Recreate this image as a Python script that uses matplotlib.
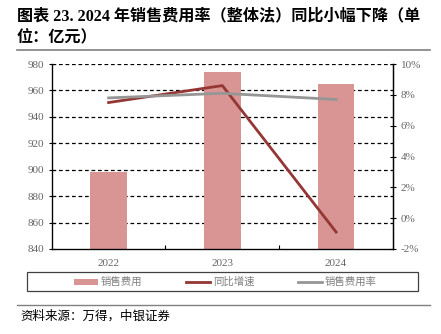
import matplotlib
matplotlib.use("Agg")
import matplotlib.pyplot as plt
from matplotlib.patches import Rectangle
from matplotlib.lines import Line2D

plt.rcParams['font.family'] = ['Liberation Serif', 'Noto Sans CJK SC', 'DejaVu Sans']

years = ['2022', '2023', '2024']
sales_expense = [898.3, 974.2, 964.9]        # 亿元
yoy_growth = [7.5, 8.6, -0.9]                # %
expense_ratio = [7.8, 8.1, 7.7]              # %
left_ticks = [840, 860, 880, 900, 920, 940, 960, 980]
right_ticks = [-2, 0, 2, 4, 6, 8, 10]

bar_color = '#D99594'
red_color = '#943634'
gray_color = '#969696'
tick_color = '#666666'

W, H = 441, 334
fig = plt.figure(figsize=(W / 100, H / 100), dpi=100)

def fx(px):
    return px / W

def fy(py):
    return 1 - py / H

# Title (two lines) and rule underneath
title_font = ['Liberation Serif', 'Noto Sans CJK SC']
fig.text(fx(17), fy(16), '图表 23. 2024 年销售费用率（整体法）同比小幅下降（单',
         fontsize=11.6, fontweight='bold', family=title_font, va='center', ha='left')
fig.text(fx(17), fy(38), '位：亿元）',
         fontsize=11.6, fontweight='bold', family=title_font, va='center', ha='left')
fig.add_artist(Line2D([fx(17), fx(430)], [fy(49.5), fy(49.5)], color='#808080', lw=1.2))

# Main axes
ax = fig.add_axes([fx(51.7), fy(249), fx(393 - 51.7), (249 - 64) / H])
x = list(range(len(years)))
ax.bar(x, sales_expense, width=0.32, color=bar_color, zorder=2)
ax.set_xlim(-0.5, 2.5)
ax.set_ylim(840, 980)
ax.set_yticks(left_ticks)
for v in left_ticks[1:]:
    ax.axhline(v, color='black', lw=0.9, dashes=(3, 2.2), zorder=1)

ax.set_xticks(x)
ax.set_xticklabels(years)
ax.set_xticks([0.5, 1.5], minor=True)
ax.tick_params(axis='x', which='major', length=0, pad=7, labelsize=8, labelcolor=tick_color)
ax.tick_params(axis='x', which='minor', length=3, direction='in', width=0.8)
ax.tick_params(axis='y', direction='inout', length=5, width=0.8, labelsize=8,
               labelcolor=tick_color, pad=3)
ax.spines['top'].set_visible(False)
for s in ['left', 'right', 'bottom']:
    ax.spines[s].set_linewidth(0.9)

ax2 = ax.twinx()
ax2.plot(x, yoy_growth, color=red_color, lw=2, zorder=3)
ax2.plot(x, expense_ratio, color=gray_color, lw=2, zorder=3)
ax2.set_ylim(-2, 10)
ax2.set_yticks(right_ticks)
ax2.set_yticklabels([f'{v}%' for v in right_ticks])
ax2.tick_params(axis='y', direction='inout', length=5, width=0.8, labelsize=8,
                labelcolor=tick_color, pad=3)
ax2.spines['top'].set_visible(False)
ax2.spines['right'].set_linewidth(0.9)

# Legend box
fig.add_artist(Rectangle((fx(27), fy(291)), fx(418 - 27), (291 - 272) / H,
                         fill=False, edgecolor='#404040', lw=0.9))
ly = fy(281.5)
legend_font = ['Noto Sans CJK SC']
fig.add_artist(Rectangle((fx(74), fy(284.5)), fx(24), 6 / H, color=bar_color, lw=0))
fig.text(fx(101), ly, '销售费用', fontsize=7.5, color='#7f7f7f', family=legend_font, va='center')
fig.add_artist(Line2D([fx(186), fx(210)], [ly, ly], color=red_color, lw=2))
fig.text(fx(213), ly, '同比增速', fontsize=7.5, color='#7f7f7f', family=legend_font, va='center')
fig.add_artist(Line2D([fx(298), fx(322)], [ly, ly], color=gray_color, lw=2))
fig.text(fx(325), ly, '销售费用率', fontsize=7.5, color='#7f7f7f', family=legend_font, va='center')

# Source note
fig.add_artist(Line2D([fx(17), fx(430)], [fy(305), fy(305)], color='#808080', lw=1))
fig.text(fx(20), fy(316), '资料来源：万得，中银证券', fontsize=9, style='italic',
         family=legend_font, va='center', ha='left')

fig.savefig('out.png', dpi=100)
